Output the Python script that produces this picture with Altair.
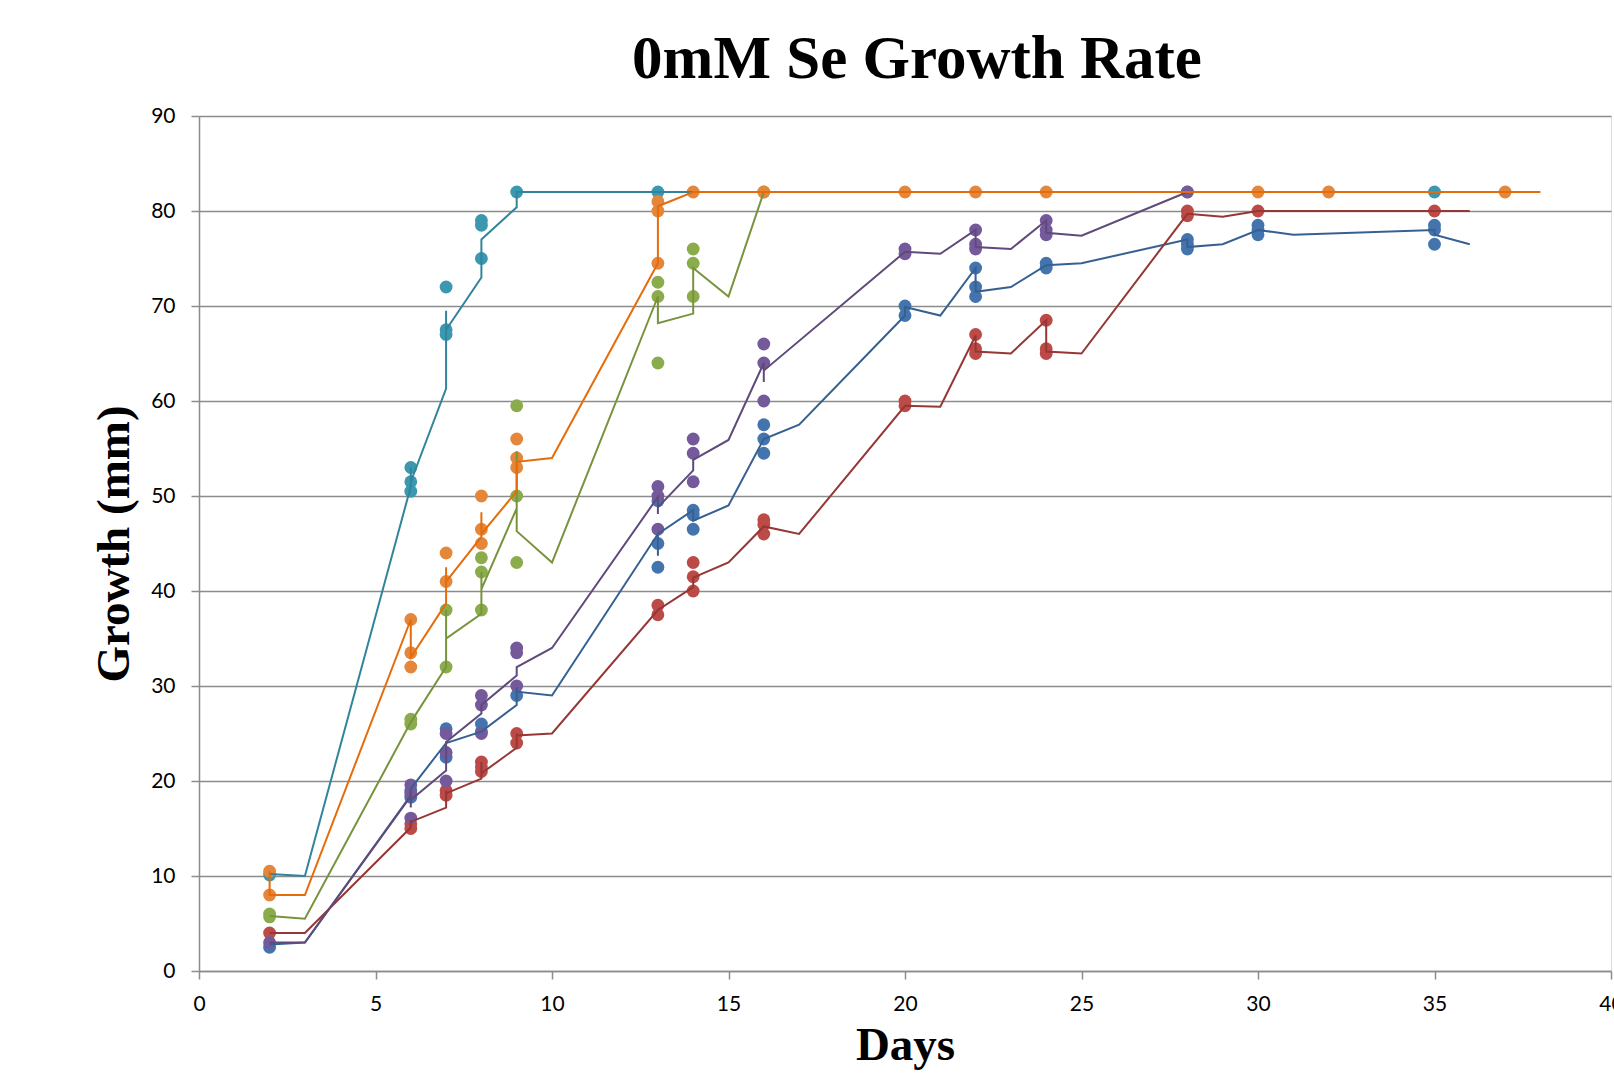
import altair as alt
import pandas as pd

series = ["blue", "red", "green", "teal", "orange", "purple"]
marker_colors = ["#4374AE", "#BC4A47", "#8BAC4C", "#3C97B1", "#E5873A", "#745A9B"]
line_colors = ["#376092", "#953735", "#77933C", "#31849B", "#E46C0A", "#604A7B"]

# ---- measured points ----
teal_x = [2, 6, 6, 6, 7, 7, 7, 8, 8, 8, 9, 13, 35]
teal_y = [10.1, 53, 51.5, 50.5, 72, 67.5, 67, 79, 78.5, 75, 82, 82, 82]

orange_x = [2, 2, 6, 6, 6, 7, 7, 8, 8, 8, 9, 9, 9, 13, 13, 13, 14, 16, 20, 22, 24, 28, 30, 32, 37]
orange_y = [10.5, 8, 37, 33.5, 32, 44, 41, 50, 46.5, 45, 56, 54, 53, 81, 80, 74.5, 82, 82, 82, 82, 82, 82, 82, 82, 82]

green_x = [2, 2, 6, 6, 7, 7, 8, 8, 8, 9, 9, 9, 13, 13, 13, 14, 14, 14, 16]
green_y = [6, 5.7, 26.5, 26, 38, 32, 43.5, 42, 38, 59.5, 50, 43, 72.5, 71, 64, 76, 74.5, 71, 82]

purple_x = [2, 6, 6, 6, 7, 7, 7, 8, 8, 8, 9, 9, 9, 13, 13, 13, 14, 14, 14, 16, 16, 16,
            20, 20, 22, 22, 22, 24, 24, 24, 28]
purple_y = [3, 19.6, 18.7, 16.1, 25, 23, 20, 29, 28, 25, 34, 33.5, 30, 51, 50, 46.5, 56, 54.5, 51.5,
            66, 64, 60, 76, 75.5, 78, 76.5, 76, 79, 78, 77.5, 82]

blue_x = [2, 6, 6, 7, 7, 8, 8, 9, 13, 13, 13, 14, 14, 14, 16, 16, 16, 20, 20, 22, 22, 22,
          24, 24, 28, 28, 28, 30, 30, 30, 35, 35, 35]
blue_y = [2.5, 19, 18.3, 25.5, 22.5, 26, 25.2, 29, 49.5, 45, 42.5, 48.5, 48, 46.5, 57.5, 56, 54.5,
          70, 69, 74, 72, 71, 74.5, 74, 77, 76.5, 76, 78.5, 78, 77.5, 78.5, 78, 76.5]

red_x = [2, 6, 6, 7, 7, 8, 8, 8, 9, 9, 13, 13, 14, 14, 14, 16, 16, 16, 20, 20, 22, 22, 22,
         24, 24, 24, 28, 28, 30, 35]
red_y = [4, 15.5, 15, 19, 18.5, 22, 21.5, 21, 25, 24, 38.5, 37.5, 43, 41.5, 40, 47.5, 47, 46,
         60, 59.5, 67, 65.5, 65, 68.5, 65.5, 65, 80, 79.5, 80, 80]

# ---- trend-line vertices ----
teal_lx = [2, 3, 6, 6, 6, 7, 7, 7, 8, 8, 9, 9, 36]
teal_ly = [10.2, 10, 51, 53, 51.5, 61.3, 69.5, 67.5, 73, 77, 80.4, 82, 82]

orange_lx = [2, 2, 3, 6, 6, 7, 7, 7, 8, 8, 8, 9, 9, 10, 13, 13, 14, 38]
orange_ly = [10.5, 8, 8, 37, 33, 38.7, 42.5, 41, 45.7, 48.3, 46, 50.5, 53.6, 54, 74.5, 80.5, 82, 82]

green_lx = [2, 3, 6, 7, 7, 7, 8, 8, 8, 9, 9, 9, 10, 13, 13, 14, 14, 15, 16, 36]
green_ly = [5.8, 5.5, 26.2, 32, 38, 35, 37.6, 42, 40.2, 48.7, 54.7, 46.3, 43, 71, 68.2, 69.2, 74, 71, 82, 82]

purple_lx = [2, 3, 6, 6, 6, 6, 7, 7, 8, 8, 9, 9, 10, 13, 13, 13, 14, 14, 15, 16, 16, 16,
             20, 21, 22, 22, 23, 24, 24, 25, 28]
purple_ly = [3, 3, 18.4, 19, 17.2, 18, 21.1, 24.1, 27.1, 28, 31.1, 32, 34, 49.9, 48.1, 48.8, 52.7, 53.8,
             55.9, 64, 62, 63.2, 75.7, 75.5, 78, 76.2, 76, 79, 77.7, 77.4, 82]

blue_lx = [2, 3, 6, 6, 7, 8, 9, 9, 9, 10, 13, 13, 13, 14, 14, 15, 16, 17, 20, 20, 21, 22, 22,
           23, 24, 25, 28, 28, 29, 30, 31, 35, 35, 36]
blue_ly = [2.8, 3, 18.5, 19.2, 24, 25.2, 28, 29.9, 29.4, 29, 46, 43.7, 46, 48.5, 47.4, 49, 56, 57.5,
           69, 69.9, 69, 74, 71.5, 72, 74.3, 74.5, 77, 76.2, 76.5, 78, 77.5, 78, 77.5, 76.5]

red_lx = [2, 3, 6, 6, 6, 7, 7, 7, 8, 8, 8, 9, 9, 9, 10, 13, 14, 14, 15, 16, 17, 20, 21, 22, 22,
          23, 24, 24, 25, 28, 29, 30, 36]
red_ly = [4, 4, 15.1, 15.9, 15.7, 17.2, 19, 18.7, 20.25, 22, 20.8, 23.5, 25, 24.8, 25, 38, 40.4, 41.4,
          43, 46.8, 46, 59.5, 59.4, 66.9, 65.2, 65, 68.5, 65.2, 65, 79.7, 79.4, 80, 80]

pts = {"blue": (blue_x, blue_y), "red": (red_x, red_y), "green": (green_x, green_y),
       "teal": (teal_x, teal_y), "orange": (orange_x, orange_y), "purple": (purple_x, purple_y)}
lns = {"blue": (blue_lx, blue_ly), "red": (red_lx, red_ly), "green": (green_lx, green_ly),
       "purple": (purple_lx, purple_ly), "teal": (teal_lx, teal_ly), "orange": (orange_lx, orange_ly)}

prow = []
k = 0
for s in series:
    xs, ys = pts[s]
    for a, b in zip(xs, ys):
        prow.append({"Days": a, "Growth": b, "series": s, "k": k})
        k += 1
pdf = pd.DataFrame(prow)

lrow = []
line_order = ["blue", "red", "green", "purple", "teal", "orange"]
for si, s in enumerate(line_order):
    xs, ys = lns[s]
    for i, (a, b) in enumerate(zip(xs, ys)):
        lrow.append({"Days": a, "Growth": b, "series": s, "i": i, "z": si})
ldf = pd.DataFrame(lrow)

xscale = alt.Scale(domain=[0, 40], nice=False)
yscale = alt.Scale(domain=[0, 90], nice=False)

xaxis = alt.Axis(title="Days", values=list(range(0, 41, 5)), grid=False, labelFlush=False,
                 domainColor="#8C8C8C", domainWidth=1.5, tickColor="#8C8C8C", tickWidth=1.5,
                 tickSize=8, labelPadding=14, labelFontSize=21, labelFont="Lato", labelColor="#000",
                 titleFont="Liberation Serif", titleFontSize=47, titleFontWeight="bold",
                 titleColor="#000", titlePadding=8)
yaxis = alt.Axis(title="Growth (mm)", values=list(range(0, 91, 10)), grid=True, labelFlush=False,
                 gridColor="#8C8C8C", gridWidth=1.5,
                 domainColor="#8C8C8C", domainWidth=1.5, tickColor="#8C8C8C", tickWidth=1.5,
                 tickSize=8, labelPadding=16, labelFontSize=21, labelFont="Lato", labelColor="#000",
                 titleFont="Liberation Serif", titleFontSize=47, titleFontWeight="bold",
                 titleColor="#000", titlePadding=12)

points = alt.Chart(pdf).mark_circle(size=165, opacity=1).encode(
    x=alt.X("Days:Q", scale=xscale, axis=xaxis),
    y=alt.Y("Growth:Q", scale=yscale, axis=yaxis),
    color=alt.Color("series:N", scale=alt.Scale(domain=series, range=marker_colors), legend=None),
    order=alt.Order("k:Q"),
)

lines = []
for s in line_order:
    sub = ldf[ldf.series == s]
    lines.append(
        alt.Chart(sub).mark_line(strokeWidth=2, color=line_colors[series.index(s)]).encode(
            x=alt.X("Days:Q", scale=xscale),
            y=alt.Y("Growth:Q", scale=yscale),
            order=alt.Order("i:Q"),
        )
    )

chart = alt.layer(points, *lines).properties(
    width=1412, height=855,
    autosize="none",
    padding={"left": 199, "top": 116, "right": 3, "bottom": 108},
    title=alt.TitleParams("0mM Se Growth Rate", font="Liberation Serif", fontSize=61,
                          fontWeight="bold", color="#000", anchor="middle", offset=-34,
                          dx=12, baseline="alphabetic"),
).configure_view(stroke=None).configure(background="white")

chart.save("out.html", embed_options={"renderer": "svg", "actions": False})
